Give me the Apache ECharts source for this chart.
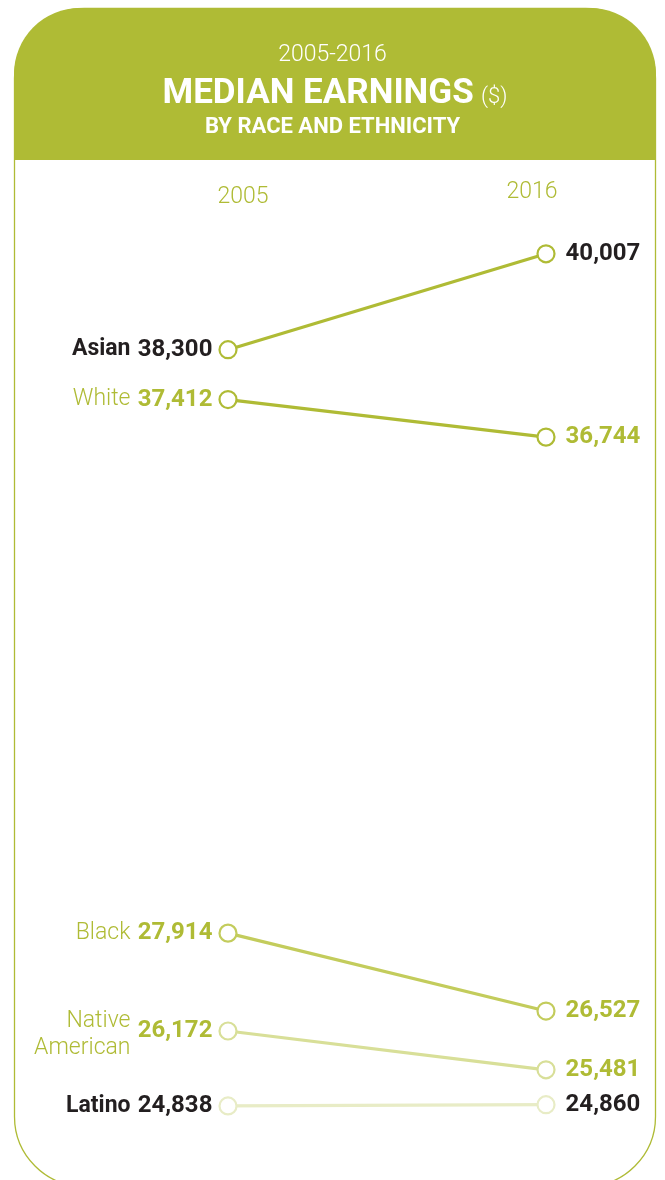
<!DOCTYPE html>
<html><head><meta charset="utf-8">
<script src="https://cdn.jsdelivr.net/npm/echarts@6/dist/echarts.min.js"></script>
<style>html,body{margin:0;padding:0;background:#fff}#c{width:665px;height:1180px}</style>
</head><body><div id="c"></div>
<script>
const years = ['2005', '2016'];
const groups = ['Asian', 'White', 'Black', 'Native\nAmerican', 'Latino'];
const values2005 = [38300, 37412, 27914, 26172, 24838];
const values2016 = [40007, 36744, 26527, 25481, 24860];
const lineColors = ['#afbb35', '#afbb35', '#c3cc5c', '#d8df98', '#e8ecc6'];
const nameColors = ['#231f20', '#afbb35', '#afbb35', '#afbb35', '#231f20'];
const leftValColors = ['#231f20', '#afbb35', '#afbb35', '#afbb35', '#231f20'];
const rightValColors = ['#231f20', '#afbb35', '#afbb35', '#afbb35', '#231f20'];
const nameBold = [true, false, false, false, true];

const GREEN = '#afbb35';
const FONT = 'Roboto, "DejaVu Sans", sans-serif';
const fmt = v => v.toLocaleString('en-US');

const chart = echarts.init(document.getElementById('c'), null, {renderer: 'canvas'});

const series = groups.map((g, i) => ({
  type: 'line',
  name: g,
  z: 10 - i,
  symbol: 'circle',
  symbolSize: 17,
  showAllSymbol: true,
  lineStyle: {color: lineColors[i], width: 3.2},
  itemStyle: {color: '#fff', borderColor: lineColors[i], borderWidth: 2.2, opacity: 1},
  emphasis: {disabled: true},
  label: {
    show: true,
    fontFamily: FONT,
    fontWeight: 'bold',
    fontSize: 24,
    formatter: p => fmt(p.value)
  },
  animation: false,
  data: [
    {value: values2005[i], label: {position: 'left', distance: 6, color: leftValColors[i]}},
    {value: values2016[i], label: {position: 'right', distance: 10, color: rightValColors[i]}}
  ]
}));

series.push({
  type: 'scatter',
  name: 'names',
  symbol: 'circle',
  symbolSize: 1,
  itemStyle: {color: 'rgba(0,0,0,0)', opacity: 1},
  emphasis: {disabled: true},
  animation: false,
  data: groups.map((g, i) => ({
    value: [0, values2005[i]],
    label: {
      show: true,
      position: 'left',
      distance: 97,
      formatter: g,
      fontFamily: FONT,
      fontSize: 23,
      lineHeight: 27,
      fontWeight: nameBold[i] ? 'bold' : 300,
      color: nameColors[i],
      opacity: 1,
      align: 'right',
      offset: [0, i === 3 ? 4 : 0]
    }
  }))
});

chart.setOption({
  animation: false,
  backgroundColor: '#fff',
  grid: {left: 228, width: 318, top: 198, height: 955, containLabel: false},
  xAxis: {type: 'category', data: years, boundaryGap: false, show: false},
  yAxis: {type: 'value', min: 24000, max: 41000, show: false},
  graphic: [
    {type: 'rect', z: -2, shape: {x: 14.5, y: 8.5, width: 641, height: 1178, r: 70},
     style: {fill: '#fff', stroke: GREEN, lineWidth: 1.3}},
    {type: 'rect', z: -1, shape: {x: 14, y: 8, width: 642, height: 152, r: [66, 66, 0, 0]},
     style: {fill: GREEN}},
    {type: 'text', left: 'center', top: 44, style: {text: '2005-2016', fill: '#fff', font: '300 23px ' + FONT}},
    {type: 'text', x: 335, y: 77, style: {
      text: '{a|MEDIAN EARNINGS} {b|($)}', align: 'center',
      rich: {a: {fontFamily: FONT, fontWeight: 'bold', fontSize: 35, fill: '#fff', color: '#fff'},
             b: {fontFamily: FONT, fontWeight: 300, fontSize: 22, fill: '#fff', color: '#fff', padding: [6, 0, 0, 4]}}}},
    {type: 'text', left: 'center', top: 116, style: {text: 'BY RACE AND ETHNICITY', fill: '#fff', font: 'bold 22px ' + FONT}},
    {type: 'text', x: 243, y: 186, style: {text: years[0], fill: GREEN, font: '300 23px ' + FONT, align: 'center'}},
    {type: 'text', x: 532, y: 181, style: {text: years[1], fill: GREEN, font: '300 23px ' + FONT, align: 'center'}}
  ],
  series: series
});
</script></body></html>
